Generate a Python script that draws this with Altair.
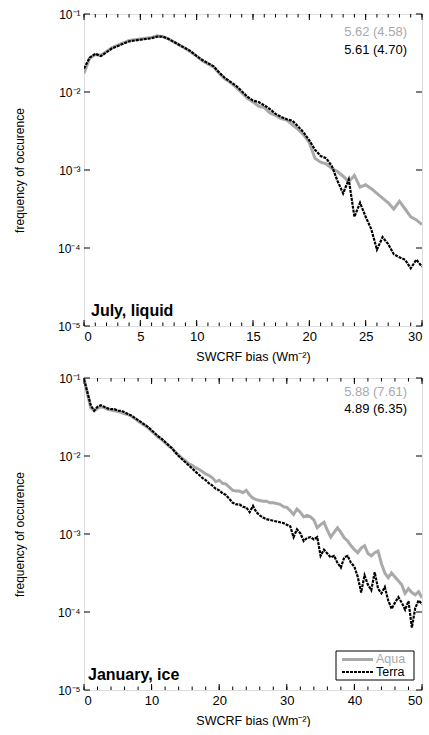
import altair as alt
import pandas as pd

# ---------------- data ----------------
# July, liquid: SWCRF bias bins (Wm-2) and log10(frequency of occurence)
jul_bias = [i * 0.5 for i in range(61)]
jul_aqua_log10 = [
    -1.76, -1.57, -1.52, -1.53, -1.48, -1.43, -1.40, -1.37, -1.34, -1.33,
    -1.32, -1.31, -1.30, -1.28, -1.29, -1.32, -1.36, -1.40, -1.44, -1.49,
    -1.54, -1.60, -1.64, -1.68, -1.76, -1.83, -1.88, -1.94, -2.01, -2.08,
    -2.13, -2.18, -2.20, -2.27, -2.30, -2.34, -2.36, -2.42, -2.48, -2.55,
    -2.65, -2.85, -2.90, -2.92, -2.98, -3.02, -3.08, -3.15, -3.07, -3.22,
    -3.19, -3.24, -3.30, -3.36, -3.42, -3.50, -3.40, -3.50, -3.60, -3.64,
    -3.70]
jul_terra_log10 = [
    -1.70, -1.56, -1.51, -1.54, -1.49, -1.44, -1.41, -1.38, -1.35, -1.34,
    -1.33, -1.32, -1.31, -1.29, -1.29, -1.32, -1.36, -1.40, -1.44, -1.48,
    -1.54, -1.59, -1.63, -1.67, -1.75, -1.82, -1.87, -1.92, -1.99, -2.06,
    -2.11, -2.13, -2.17, -2.22, -2.28, -2.32, -2.35, -2.37, -2.44, -2.52,
    -2.62, -2.74, -2.82, -2.85, -2.95, -3.14, -3.30, -3.12, -3.60, -3.42,
    -3.60, -3.76, -4.02, -3.86, -3.95, -4.08, -4.12, -4.15, -4.26, -4.15,
    -4.24]

# January, ice
jan_bias = [i * 0.5 for i in range(101)]
jan_aqua_log10 = [
    -1.00, -1.20, -1.38, -1.42, -1.39, -1.37, -1.38, -1.40, -1.41, -1.42,
    -1.43, -1.44, -1.46, -1.47, -1.49, -1.52, -1.55, -1.58, -1.61, -1.64,
    -1.68, -1.72, -1.76, -1.79, -1.83, -1.87, -1.90, -1.95, -1.99, -2.03,
    -2.06, -2.10, -2.12, -2.15, -2.17, -2.20, -2.23, -2.25, -2.28, -2.33,
    -2.31, -2.35, -2.36, -2.40, -2.44, -2.45, -2.45, -2.47, -2.44, -2.50,
    -2.54, -2.56, -2.57, -2.58, -2.58, -2.60, -2.60, -2.61, -2.62, -2.65,
    -2.66, -2.70, -2.75, -2.68, -2.72, -2.78, -2.76, -2.78, -2.82, -2.92,
    -2.88, -2.85, -2.95, -3.04, -2.98, -2.92, -2.98, -3.05, -3.09, -3.15,
    -3.20, -3.24, -3.18, -3.15, -3.25, -3.28, -3.24, -3.22, -3.38, -3.50,
    -3.56, -3.50, -3.55, -3.60, -3.65, -3.76, -3.70, -3.75, -3.78, -3.74,
    -3.82]
jan_terra_log10 = [
    -1.02, -1.18, -1.35, -1.42, -1.37, -1.35, -1.37, -1.39, -1.40, -1.40,
    -1.42, -1.42, -1.44, -1.46, -1.48, -1.51, -1.54, -1.57, -1.60, -1.63,
    -1.67, -1.71, -1.75, -1.78, -1.82, -1.86, -1.90, -1.95, -2.00, -2.04,
    -2.08, -2.12, -2.16, -2.20, -2.24, -2.28, -2.31, -2.35, -2.38, -2.42,
    -2.44, -2.48, -2.50, -2.55, -2.60, -2.62, -2.62, -2.65, -2.66, -2.72,
    -2.64, -2.72, -2.76, -2.79, -2.81, -2.82, -2.83, -2.84, -2.85, -2.86,
    -2.88, -2.90, -3.04, -2.94, -2.99, -3.09, -3.05, -3.04, -3.07, -3.04,
    -3.28, -3.20, -3.25, -3.30, -3.28, -3.37, -3.43, -3.30, -3.28, -3.37,
    -3.42, -3.55, -3.75, -3.53, -3.65, -3.72, -3.49, -3.70, -3.76, -3.68,
    -3.85, -3.96, -3.88, -3.81, -3.88, -3.97, -3.86, -4.20, -3.95, -3.85,
    -3.90]

series_names = ["Aqua", "Terra"]
jul_stats = ["5.62 (4.58)", "5.61 (4.70)"]
jan_stats = ["5.88 (7.61)", "4.89 (6.35)"]
jul_label = "July, liquid"
jan_label = "January, ice"
jul_major = [0, 5, 10, 15, 20, 25, 30]
jul_minor = list(range(0, 31))
jan_major = [0, 10, 20, 30, 40, 50]
jan_minor = list(range(0, 51, 2))
y_decades = [1e-5, 1e-4, 1e-3, 1e-2, 1e-1]

# ---------------- styling ----------------
FONT = "Liberation Sans"
GRAY = "#a9a9a9"
W, H = 338, 312


def panel(bias, aqua, terra, xmax, major, minor, stats, label, legend):
    xs = alt.Scale(domain=[0, xmax], nice=False, zero=False)
    ys = alt.Scale(type="log", domain=[1e-5, 1e-1], nice=False)
    xaxis = alt.Axis(values=major, title="SWCRF bias (Wm⁻²)", ticks=False,
                     domain=False, grid=False, labelFontSize=13,
                     titleFontSize=12.5, titleFontWeight="normal",
                     labelPadding=4, titlePadding=7, labelColor="black",
                     titleColor="black", labelFont=FONT, titleFont=FONT)
    yaxis = alt.Axis(values=y_decades,
                     labelExpr="'10⁻' + ['','¹','²','³','⁴','⁵'][round(-log(datum.value)/LN10)]",
                     title="frequency of occurence", ticks=False, domain=False,
                     grid=False, labelFontSize=12, titleFontSize=12,
                     titleFontWeight="normal", labelPadding=4, titlePadding=31,
                     labelColor="black", titleColor="black", labelFont=FONT,
                     titleFont=FONT)
    X = lambda: alt.X("bias:Q", scale=xs, axis=xaxis)
    Y = lambda: alt.Y("freq:Q", scale=ys, axis=yaxis)

    df_a = pd.DataFrame({"bias": bias, "freq": [10 ** v for v in aqua]})
    df_t = pd.DataFrame({"bias": bias, "freq": [10 ** v for v in terra]})

    aqua_line = alt.Chart(df_a).mark_line(color=GRAY, strokeWidth=3, clip=True).encode(
        x=X(), y=Y())
    terra_line = alt.Chart(df_t).mark_line(color="black", strokeWidth=2.2,
                                           strokeDash=[3, 1], clip=True).encode(
        x=X(), y=Y())

    maj = pd.DataFrame({"bias": major})
    mnr = pd.DataFrame({"bias": minor})
    dec = pd.DataFrame({"freq": y_decades})
    tick_layers = []
    for d, ln in ((maj, 6), (mnr, 3.5)):
        tick_layers.append(alt.Chart(d).mark_rule(color="black", strokeWidth=1).encode(
            x=X(), y=alt.value(H), y2=alt.value(H - ln)))
        tick_layers.append(alt.Chart(d).mark_rule(color="black", strokeWidth=1).encode(
            x=X(), y=alt.value(0), y2=alt.value(ln)))
    tick_layers.append(alt.Chart(dec).mark_rule(color="black", strokeWidth=1).encode(
        y=Y(), x=alt.value(0), x2=alt.value(6)))
    tick_layers.append(alt.Chart(dec).mark_rule(color="black", strokeWidth=1).encode(
        y=Y(), x=alt.value(W), x2=alt.value(W - 6)))

    st = pd.DataFrame({"txt": stats, "col": [GRAY, "black"]})
    sy = (17.5, 35.5) if not legend else (13.5, 30.5)
    stat_layers = []
    for i in range(2):
        stat_layers.append(alt.Chart(st.iloc[[i]]).mark_text(
            align="right", baseline="middle", fontSize=13, font=FONT).encode(
            x=alt.value(W - 15), y=alt.value(sy[i]), text="txt:N",
            color=alt.Color("col:N", scale=None)))

    lab = alt.Chart(pd.DataFrame({"txt": [label]})).mark_text(
        align="left", baseline="alphabetic", fontSize=16, fontWeight="bold",
        font=FONT, color="black").encode(
        x=alt.value(7 if not legend else 4), y=alt.value(H - 10), text="txt:N")

    layers = [aqua_line, terra_line] + tick_layers + stat_layers + [lab]

    if legend:
        box = alt.Chart(pd.DataFrame({"k": [0]})).mark_rect(
            fill="white", stroke="black", strokeWidth=1).encode(
            x=alt.value(252), x2=alt.value(330), y=alt.value(273), y2=alt.value(302))
        la = alt.Chart(pd.DataFrame({"k": [0]})).mark_rule(
            color=GRAY, strokeWidth=3).encode(
            x=alt.value(258), x2=alt.value(289), y=alt.value(281.5))
        lt = alt.Chart(pd.DataFrame({"k": [0]})).mark_rule(
            color="black", strokeWidth=2.2, strokeDash=[3, 1]).encode(
            x=alt.value(258), x2=alt.value(289), y=alt.value(294))
        ta = alt.Chart(pd.DataFrame({"txt": [series_names[0]]})).mark_text(
            align="left", baseline="middle", fontSize=12.5, font=FONT, color=GRAY).encode(
            x=alt.value(292), y=alt.value(281), text="txt:N")
        tt = alt.Chart(pd.DataFrame({"txt": [series_names[1]]})).mark_text(
            align="left", baseline="middle", fontSize=12.5, font=FONT, color="black").encode(
            x=alt.value(292), y=alt.value(294), text="txt:N")
        layers += [box, la, lt, ta, tt]

    return alt.layer(*layers).properties(width=W, height=H)


top = panel(jul_bias, jul_aqua_log10, jul_terra_log10, 30, jul_major, jul_minor,
            jul_stats, jul_label, False)
bottom = panel(jan_bias, jan_aqua_log10, jan_terra_log10, 50, jan_major, jan_minor,
               jan_stats, jan_label, True)

chart = alt.vconcat(top, bottom, spacing=8).properties(
    padding={"left": 12, "top": 7, "right": 0, "bottom": 0}
).configure_view(stroke="black", strokeWidth=1.5).configure(font=FONT)

chart.save("out.html", embed_options={"renderer": "svg", "actions": False})
